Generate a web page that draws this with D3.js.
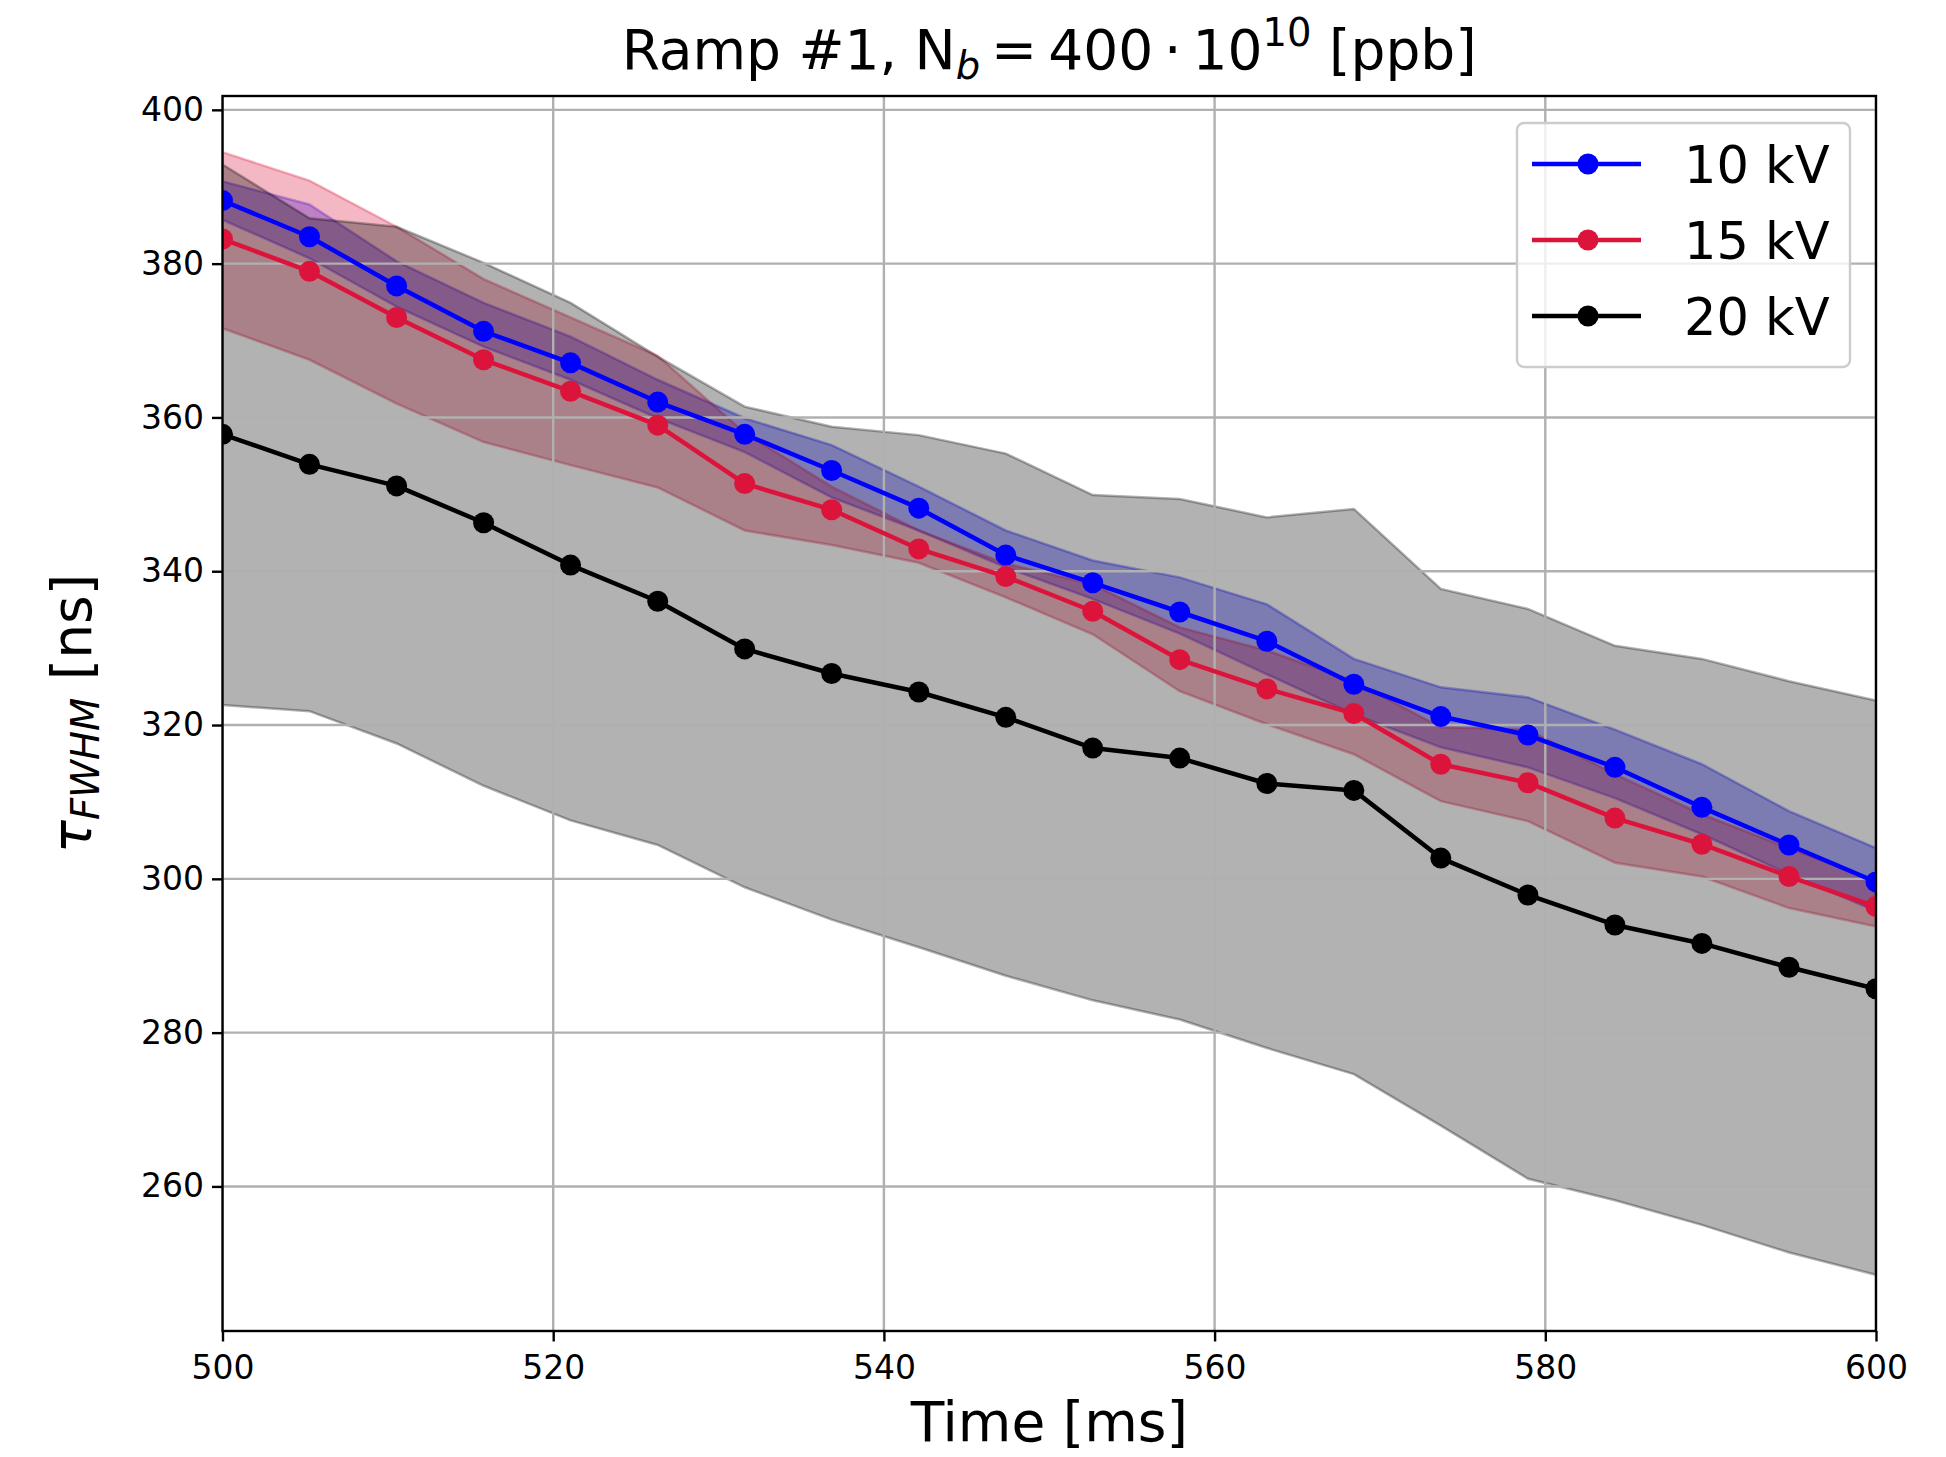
<!DOCTYPE html>
<meta charset="utf-8">
<style>
    body {
        margin: 0;
        background: #fff;
    }

    text {
        font-family: "DejaVu Sans", sans-serif;
        fill: #000;
    }

    .grid line {
        stroke: #b0b0b0;
        stroke-width: 2.4px;
    }
</style>
<svg width="1946" height="1457"></svg>
<script src="https://cdn.jsdelivr.net/npm/d3@7/dist/d3.min.js"></script>
<script>
    // time points [ms]
    var times = [500, 505.26, 510.53, 515.79, 521.05, 526.32, 531.58, 536.84, 542.11, 547.37,
        552.63, 557.89, 563.16, 568.42, 573.68, 578.95, 584.21, 589.47, 594.74, 600];

    // tau_FWHM [ns], 10 kV
    var kv10 = [388.2, 383.5, 377.1, 371.2, 367.1, 362.0, 357.8, 353.1, 348.2, 342.1,
        338.5, 334.7, 330.9, 325.3, 321.1, 318.7, 314.5, 309.3, 304.4, 299.6];
    var kv10Hi = [390.7, 387.7, 380.3, 374.9, 370.5, 364.9, 359.9, 356.4, 351.0, 345.3,
        341.4, 339.2, 335.7, 328.6, 324.9, 323.6, 319.4, 314.9, 308.8, 304.0];
    var kv10Lo = [385.7, 380.7, 374.4, 369.2, 364.9, 359.9, 355.5, 349.6, 345.3, 340.5,
        336.4, 331.9, 326.6, 321.4, 317.1, 314.5, 310.5, 305.8, 300.6, 295.8];

    // 15 kV
    var kv15 = [383.2, 379.0, 373.0, 367.5, 363.4, 359.0, 351.4, 348.0, 342.9, 339.3,
        334.8, 328.5, 324.7, 321.5, 314.9, 312.5, 307.9, 304.5, 300.3, 296.4];
    var kv15Hi = [394.5, 390.8, 384.8, 378.0, 373.0, 368.0, 358.0, 351.0, 345.3, 341.0,
        338.3, 332.7, 329.7, 325.7, 319.7, 319.4, 313.6, 308.4, 304.0, 299.7];
    var kv15Lo = [371.6, 367.5, 361.8, 356.8, 353.8, 350.9, 345.3, 343.4, 341.1, 336.6,
        331.8, 324.4, 320.1, 316.2, 310.1, 307.5, 302.1, 300.3, 296.2, 293.8];

    // 20 kV
    var kv20 = [357.8, 353.9, 351.1, 346.3, 340.8, 336.1, 329.9, 326.7, 324.3, 321.0,
        317.0, 315.7, 312.4, 311.5, 302.7, 297.9, 294.0, 291.6, 288.5, 285.7];
    var kv20Hi = [392.9, 385.9, 384.8, 380.1, 374.9, 367.9, 361.4, 358.8, 357.7, 355.3,
        349.9, 349.4, 347.0, 348.1, 337.7, 335.1, 330.3, 328.6, 325.7, 323.2];
    var kv20Lo = [322.6, 321.8, 317.6, 312.1, 307.6, 304.4, 298.9, 294.7, 291.1, 287.4,
        284.2, 281.7, 278.0, 274.6, 267.9, 261.0, 258.2, 255.0, 251.4, 248.5];

    var xTicks = [500, 520, 540, 560, 580, 600];
    var yTicks = [260, 280, 300, 320, 340, 360, 380, 400];

    var series = [
        {label: "10 kV", color: "#0000ff", mid: kv10, hi: kv10Hi, lo: kv10Lo},
        {label: "15 kV", color: "#dc143c", mid: kv15, hi: kv15Hi, lo: kv15Lo},
        {label: "20 kV", color: "#000000", mid: kv20, hi: kv20Hi, lo: kv20Lo}
    ];

    var svg = d3.select("svg"),
        margin = {top: 96, right: 70, bottom: 126, left: 222.5},
        width = +svg.attr("width") - margin.left - margin.right,
        height = +svg.attr("height") - margin.top - margin.bottom;

    // matplotlib style auto limits: data extent + 5%
    var yMin = d3.min(series, function(s) { return d3.min(s.lo); }),
        yMax = d3.max(series, function(s) { return d3.max(s.hi); }),
        pad = (yMax - yMin) * 0.05;

    var x = d3.scaleLinear().domain([500, 600]).range([0, width]);
    var y = d3.scaleLinear().domain([yMin - pad, yMax + pad]).range([height, 0]);

    var g = svg.append("g").attr("transform", "translate(" + margin.left + "," + margin.top + ")");

    g.append("clipPath").attr("id", "clip")
        .append("rect").attr("width", width).attr("height", height);

    var plot = g.append("g").attr("clip-path", "url(#clip)");

    // bands (blue, red, then grey on top)
    var area = d3.area()
        .x(function(d) { return x(d.t); })
        .y0(function(d) { return y(d.lo); })
        .y1(function(d) { return y(d.hi); });

    series.forEach(function(s) {
        var pts = times.map(function(t, i) { return {t: t, lo: s.lo[i], hi: s.hi[i]}; });
        plot.append("path")
            .datum(pts)
            .attr("d", area)
            .attr("fill", s.color)
            .attr("fill-opacity", 0.3)
            .attr("stroke", s.color)
            .attr("stroke-opacity", 0.3)
            .attr("stroke-width", 2.5);
    });

    // grid
    var grid = plot.append("g").attr("class", "grid");
    grid.selectAll(".gx").data(xTicks).enter().append("line")
        .attr("x1", function(d) { return x(d); })
        .attr("x2", function(d) { return x(d); })
        .attr("y1", 0).attr("y2", height);
    grid.selectAll(".gy").data(yTicks).enter().append("line")
        .attr("y1", function(d) { return y(d); })
        .attr("y2", function(d) { return y(d); })
        .attr("x1", 0).attr("x2", width);

    // lines + markers
    var line = d3.line()
        .x(function(d) { return x(d.t); })
        .y(function(d) { return y(d.v); });

    series.forEach(function(s) {
        var pts = times.map(function(t, i) { return {t: t, v: s.mid[i]}; });
        plot.append("path")
            .datum(pts)
            .attr("d", line)
            .attr("fill", "none")
            .attr("stroke", s.color)
            .attr("stroke-width", 4.5)
            .attr("stroke-linejoin", "round");
        plot.append("g").selectAll("circle")
            .data(pts)
            .enter().append("circle")
            .attr("cx", function(d) { return x(d.t); })
            .attr("cy", function(d) { return y(d.v); })
            .attr("r", 10.5)
            .attr("fill", s.color);
    });

    // axes
    var xAxis = g.append("g")
        .attr("transform", "translate(0," + height + ")")
        .call(d3.axisBottom(x).tickValues(xTicks).tickSize(10.5).tickPadding(8));
    var yAxis = g.append("g")
        .call(d3.axisLeft(y).tickValues(yTicks).tickSize(10.5).tickPadding(8));

    [xAxis, yAxis].forEach(function(a) {
        a.select(".domain").remove();
        a.selectAll(".tick line").attr("stroke", "#000").attr("stroke-width", 2.4);
        a.selectAll(".tick text")
            .style("font-family", "DejaVu Sans")
            .attr("font-size", 33)
            .attr("fill", "#000");
    });
    xAxis.selectAll(".tick text").attr("dy", "0.9em");

    // frame
    g.append("rect")
        .attr("width", width).attr("height", height)
        .attr("fill", "none")
        .attr("stroke", "#000")
        .attr("stroke-width", 2.4);

    // title
    var title = svg.append("text")
        .attr("x", margin.left + width / 2)
        .attr("y", 69)
        .attr("text-anchor", "middle")
        .attr("font-size", 55);
    title.append("tspan").text("Ramp #1, N");
    title.append("tspan").attr("font-size", 38.5).attr("font-style", "italic").attr("dy", 10).text("b");
    title.append("tspan").attr("dy", -10).text("\u2009=\u2009400\u2009\u00b7\u200910");
    title.append("tspan").attr("font-size", 38.5).attr("dy", -23).text("10");
    title.append("tspan").attr("dy", 23).text(" [ppb]");

    // axis labels
    svg.append("text")
        .attr("x", margin.left + width / 2)
        .attr("y", 1441)
        .attr("text-anchor", "middle")
        .attr("font-size", 55)
        .text("Time [ms]");

    var ylab = svg.append("text")
        .attr("transform", "translate(91," + (margin.top + height / 2) + ") rotate(-90)")
        .attr("text-anchor", "middle")
        .attr("font-size", 55);
    ylab.append("tspan").attr("font-style", "italic").text("\u03c4");
    ylab.append("tspan").attr("font-style", "italic").attr("font-size", 38.5).attr("dy", 8).text("FWHM");
    ylab.append("tspan").attr("dy", -8).text(" [ns]");

    // legend
    var legend = svg.append("g").attr("transform", "translate(1517,123)");
    legend.append("rect")
        .attr("width", 333).attr("height", 244)
        .attr("rx", 7)
        .attr("fill", "#fff").attr("fill-opacity", 0.8)
        .attr("stroke", "#cccccc").attr("stroke-width", 2.4);

    var item = legend.selectAll(".item")
        .data(series)
        .enter().append("g")
        .attr("transform", function(d, i) { return "translate(0," + (41 + i * 76) + ")"; });
    item.append("line")
        .attr("x1", 15).attr("x2", 124)
        .attr("stroke", function(d) { return d.color; })
        .attr("stroke-width", 4.5);
    item.append("circle")
        .attr("cx", 71).attr("r", 10.5)
        .attr("fill", function(d) { return d.color; });
    item.append("text")
        .attr("x", 167).attr("y", 18.5)
        .attr("font-size", 51)
        .text(function(d) { return d.label; });
</script>
